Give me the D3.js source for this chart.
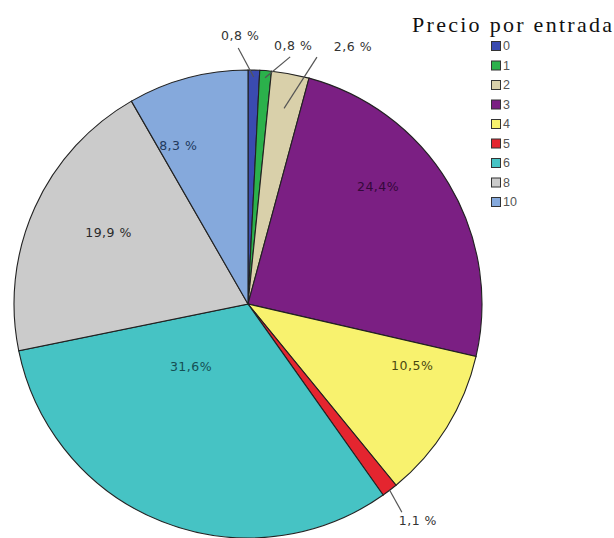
<!DOCTYPE html>
<html>
<head>
<meta charset="utf-8">
<script src="https://cdn.jsdelivr.net/npm/d3@7"></script>
<style>
  body { margin: 0; background: #fff; }
  svg { display: block; }
</style>
</head>
<body>
<div id="chart"></div>
<script>
// Data
const categories = ["0", "1", "2", "3", "4", "5", "6", "8", "10"];
const percents = [0.8, 0.8, 2.6, 24.4, 10.5, 1.1, 31.6, 19.9, 8.3];
const labels = ["0,8 %", "0,8 %", "2,6 %", "24,4%", "10,5%", "1,1 %", "31,6%", "19,9 %", "8,3 %"];
const colors = ["#3a4bb0", "#2bb14b", "#d9d0aa", "#7b1f83", "#f8f26e", "#e4252f", "#46c3c4", "#cbcbcb", "#85a9dc"];
const textColors = ["#333", "#333", "#333", "#34083a", "#4a4710", "#333", "#154f53", "#2a2a2a", "#223a5c"];
const legendTitle = "Precio por entrada";

// label placement: angle shift from slice middle (deg), radius factor
const labelShift = [-3.1, 5.6, 11.7, -11.2, -11.2, -0.9, 21, 2.9, -8.8];
const labelRad = [1.15, 1.12, 1.19, 0.75, 0.75, 1.175, 0.36, 0.67, 0.74];
// leader lines for outside labels: start radius factor, end offset from label
const leaders = [
  {i: 0, r0: 0.97, dx: -2, dy: 13},
  {i: 1, r0: 0.97, dx: -3, dy: 11},
  {i: 2, r0: 0.85, dx: -36, dy: 11},
  {i: 5, r0: 1.0, dx: -16, dy: -8}
];

const width = 614, height = 538;
const cx = 248, cy = 304, radius = 234;

const svg = d3.select("#chart")
  .append("svg")
  .attr("width", width)
  .attr("height", height);

const pie = d3.pie().sort(null).value(d => d);
const arcs = pie(percents);
const arc = d3.arc().innerRadius(0).outerRadius(radius);

const g = svg.append("g").attr("transform", `translate(${cx},${cy})`);

g.selectAll("path.slice")
  .data(arcs)
  .enter()
  .append("path")
  .attr("class", "slice")
  .attr("d", arc)
  .attr("fill", (d, i) => colors[i])
  .attr("stroke", "#222")
  .attr("stroke-width", 1.1);

function polar(angle, r) {
  return [r * Math.sin(angle), -r * Math.cos(angle)];
}
const mid = d => (d.startAngle + d.endAngle) / 2;
const labelPos = (d, i) => polar(mid(d) + labelShift[i] * Math.PI / 180, labelRad[i] * radius);

// leader lines
g.selectAll("line.leader")
  .data(leaders)
  .enter()
  .append("line")
  .attr("class", "leader")
  .attr("x1", l => polar(mid(arcs[l.i]), l.r0 * radius)[0])
  .attr("y1", l => polar(mid(arcs[l.i]), l.r0 * radius)[1])
  .attr("x2", l => labelPos(arcs[l.i], l.i)[0] + l.dx)
  .attr("y2", l => labelPos(arcs[l.i], l.i)[1] + l.dy)
  .attr("stroke", "#555")
  .attr("stroke-width", 1.2);

g.selectAll("text.label")
  .data(arcs)
  .enter()
  .append("text")
  .attr("class", "label")
  .attr("x", (d, i) => labelPos(d, i)[0])
  .attr("y", (d, i) => labelPos(d, i)[1])
  .attr("text-anchor", "middle")
  .attr("dominant-baseline", "central")
  .attr("font-family", "'DejaVu Sans', sans-serif")
  .attr("font-size", 12.5)
  .attr("letter-spacing", 0.5)
  .attr("fill", (d, i) => textColors[i])
  .text((d, i) => labels[i]);

// legend
const legend = svg.append("g");
legend.append("text")
  .attr("x", 412)
  .attr("y", 32)
  .attr("font-family", "'Liberation Serif', 'Times New Roman', serif")
  .attr("font-size", 22)
  .attr("textLength", 200)
  .attr("fill", "#111")
  .text(legendTitle);

const rowY = d3.scalePoint().domain(categories).range([46, 202]);

const items = legend.selectAll("g.item")
  .data(categories)
  .enter()
  .append("g")
  .attr("class", "item")
  .attr("transform", d => `translate(491,${rowY(d)})`);

items.append("rect")
  .attr("x", 0.5)
  .attr("y", -4.5)
  .attr("width", 9)
  .attr("height", 9)
  .attr("fill", (d, i) => colors[i])
  .attr("stroke", "#333")
  .attr("stroke-width", 1);

items.append("text")
  .attr("x", 12)
  .attr("y", 0)
  .attr("dominant-baseline", "central")
  .attr("font-family", "'Liberation Sans', Arial, sans-serif")
  .attr("font-size", 12.5)
  .attr("fill", "#555")
  .text(d => d);
</script>
</body>
</html>
